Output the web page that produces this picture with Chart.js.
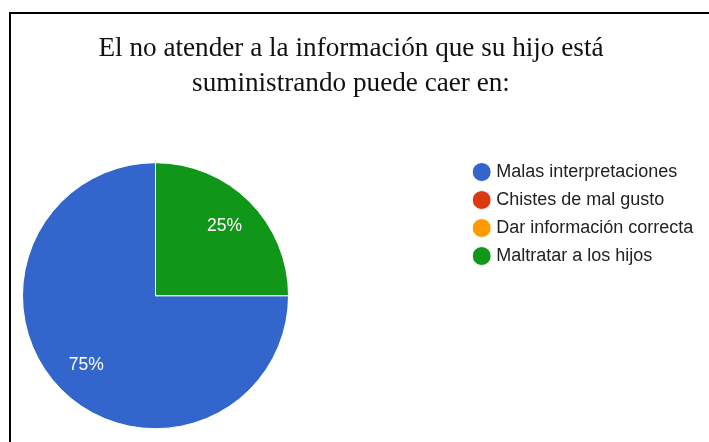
<!DOCTYPE html>
<html>
<head>
<meta charset="utf-8">
<script src="https://cdn.jsdelivr.net/npm/chart.js@4"></script>
<style>
  body { margin: 0; background: #fff; overflow: hidden; }
  #frame { position: absolute; left: 9px; top: 12px; width: 800px; height: 800px; border: 2px solid #000; box-sizing: border-box; }
  #myChart { position: absolute; left: 0; top: 0; }
</style>
</head>
<body>
<div id="frame"></div>
<canvas id="myChart" width="709" height="442"></canvas>
<script>
const titleLines = ['El no atender a la información que su hijo está', 'suministrando puede caer en:'];
const categories = ['Malas interpretaciones', 'Chistes de mal gusto', 'Dar información correcta', 'Maltratar a los hijos'];
const percentages = [75, 0, 0, 25];
const sliceColors = ['#3366CC', '#DC3912', '#FF9900', '#109618'];

Chart.defaults.font.family = "'Liberation Sans', Arial, sans-serif";

// white percentage text inside each non-empty slice
const percentLabels = {
    id: 'percentLabels',
    afterDatasetsDraw(chart) {
        const ctx = chart.ctx;
        const meta = chart.getDatasetMeta(0);
        const total = percentages.reduce((a, b) => a + b, 0);
        ctx.save();
        ctx.font = "17.5px 'Liberation Sans', Arial, sans-serif";
        ctx.fillStyle = '#fff';
        ctx.textAlign = 'center';
        ctx.textBaseline = 'middle';
        meta.data.forEach((arc, i) => {
            const value = percentages[i];
            if (!value) return;
            const p = arc.getProps(['x', 'y', 'startAngle', 'endAngle', 'outerRadius'], true);
            const mid = (p.startAngle + p.endAngle) / 2;
            const r = p.outerRadius * 0.735;
            ctx.fillText(Math.round(value / total * 100) + '%', p.x + Math.cos(mid) * r, p.y + Math.sin(mid) * r);
        });
        ctx.restore();
    }
};

const ctx = document.getElementById('myChart').getContext('2d');
const myChart = new Chart(ctx, {
    type: 'pie',
    data: {
        labels: categories,
        datasets: [{
            data: percentages,
            backgroundColor: sliceColors,
            borderColor: '#fff',
            borderWidth: 1,
            radius: 133,
        }]
    },
    options: {
        responsive: false,
        animation: false,
        devicePixelRatio: 1,
        events: [],
        rotation: 90,
        layout: {
            padding: { left: 5.8, right: 12.8, top: 0, bottom: 3.6 }
        },
        plugins: {
            title: {
                display: true,
                text: titleLines,
                color: '#111',
                font: { family: "'Liberation Serif', 'Times New Roman', serif", size: 27.2, weight: 'normal', lineHeight: 1.265 },
                padding: { top: 31.9, bottom: 52.3 }
            },
            // empty box on the right: keeps the gap between pie and legend
            subtitle: {
                display: true,
                text: ' ',
                position: 'right',
                fullSize: false,
                weight: 500,
                font: { size: 10, lineHeight: 1 },
                padding: { top: 151, bottom: 0 }
            },
            legend: {
                position: 'right',
                align: 'start',
                fullSize: false,
                maxWidth: 230,
                labels: {
                    usePointStyle: true,
                    pointStyle: 'circle',
                    boxWidth: 11,
                    boxHeight: 13.4,
                    padding: 10,
                    color: '#222',
                    font: { size: 18 }
                }
            },
            tooltip: { enabled: false }
        }
    },
    plugins: [percentLabels]
});
</script>
</body>
</html>
